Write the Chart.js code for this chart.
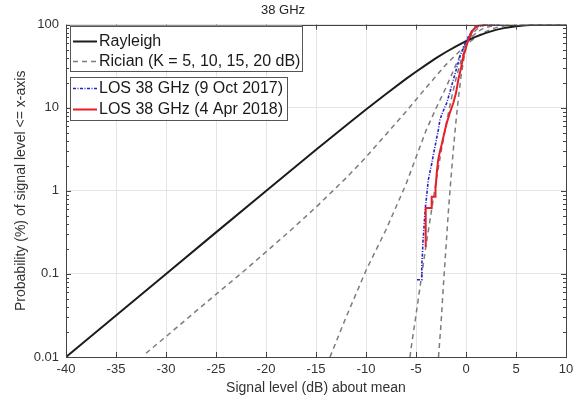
<!DOCTYPE html>
<html>
<head>
<meta charset="utf-8">
<script src="https://cdn.jsdelivr.net/npm/chart.js@4.4.1/dist/chart.umd.min.js"></script>
<style>
  html, body { margin: 0; padding: 0; background: #fff; }
  #wrap { width: 581px; height: 402px; }
</style>
</head>
<body>
<div id="wrap"><canvas id="cdf"></canvas></div>
<script>
// Rayleigh reference curve
const rayleighX = [-40, -35, -30, -25, -20, -15, -12, -10, -8, -6, -5, -4, -3, -2, -1, 0, 1, 2, 3, 4, 5, 6, 7, 8, 10];
const rayleighY = [0.01, 0.0316, 0.1, 0.316, 0.995, 3.11, 6.12, 9.52, 14.6, 22.2, 27.1, 32.8, 39.4, 46.8, 54.8, 63.2, 71.6, 79.5, 86.4, 91.9, 95.8, 98.1, 99.3, 99.8, 100];

// Rician reference curves (K = 5, 10, 15, 20 dB)
const rician5X = [-32, -30, -27.5, -25, -22.5, -20, -17.5, -15, -12, -10, -8, -6, -4, -2, 0, 1, 2, 3, 4, 5, 6, 8, 10];
const rician5Y = [0.0111, 0.0176, 0.0317, 0.0568, 0.101, 0.184, 0.338, 0.635, 1.42, 2.54, 4.77, 8.96, 17.4, 33, 57.1, 70.6, 82.8, 92, 97.2, 99.2, 99.8, 99.99, 100];
const rician10X = [-13.6, -12, -10, -8, -6, -4, -3, -2, -1, -0.5, 0, 0.5, 1, 1.5, 2, 3, 4, 5];
const rician10Y = [0.01, 0.03, 0.11, 0.34, 1.2, 5.3, 9.8, 17.5, 33, 45, 58, 70, 79, 87, 92.5, 98.4, 99.85, 100];
const rician15X = [-5.6, -5.5, -5, -4.5, -4, -3.5, -3, -2.5, -2, -1.5, -1, -0.5, 0, 0.5, 1, 1.5, 2, 2.5, 3, 4];
const rician15Y = [0.01, 0.0126, 0.032, 0.084, 0.22, 0.53, 1.29, 2.9, 6.2, 12.3, 22.4, 37, 55, 72.6, 86.6, 95, 98.6, 99.76, 99.97, 100];
const rician20X = [-2.75, -2.5, -2.25, -2, -1.75, -1.5, -1.25, -1, -0.75, -0.5, -0.25, 0, 0.25, 0.5, 0.75, 1, 1.5, 2, 3];
const rician20Y = [0.01, 0.025, 0.076, 0.21, 0.59, 1.43, 3.3, 6.9, 13.4, 23.5, 37, 52.8, 69, 82, 91, 96.5, 99.7, 99.99, 100];

// measured LOS 38 GHz CDFs (steps only where visible at the low end)
const los2017X = [-4.9, -4.42, -4.42, -4.35, -4.3, -4.22, -4.15, -4.05, -3.9, -3.77, -3.6, -3.43, -3.27, -3.1, -2.93, -2.77, -2.6, -2.3, -1.93, -1.6, -1.27, -0.93, -0.6, -0.27, 0.07, 0.4, 0.73, 1.1, 1.73, 2.5, 3.4];
const los2017Y = [0.085, 0.085, 0.13, 0.18, 0.25, 0.33, 0.45, 0.65, 0.95, 1.35, 1.7, 2.1, 2.7, 3.4, 4.3, 5.4, 7.2, 9.0, 11.4, 15.5, 21.7, 30, 41.5, 53, 66, 77, 87, 94, 98.5, 99.6, 100];
const los2018X = [-4.03, -4.03, -3.43, -3.43, -3.1, -3.05, -2.95, -2.85, -2.77, -2.6, -2.43, -2.25, -2.1, -1.93, -1.6, -1.27, -1.0, -0.77, -0.5, -0.27, 0.0, 0.23, 0.5, 0.73, 1.0, 1.4, 1.8, 2.4];
const los2018Y = [0.21, 0.62, 0.62, 0.85, 0.85, 1.05, 1.5, 2.0, 2.4, 3.0, 3.6, 4.5, 5.4, 6.5, 8.8, 11.4, 15, 21.7, 30, 41.5, 53, 66, 77, 87, 94, 98.5, 99.7, 100];

// axis ticks
const xTickValues = [-40, -35, -30, -25, -20, -15, -10, -5, 0, 5, 10];
const yTickValues = [0.01, 0.1, 1, 10, 100];
const yTickLabels = ['0.01', '0.1', '1', '10', '100'];

// minor ticks 2..9 inside each decade
const yAllTicks = [];
yTickValues.forEach((d, i) => {
    yAllTicks.push(d);
    if (i < yTickValues.length - 1) {
        for (let m = 2; m < 10; m++) yAllTicks.push(+(m * d).toPrecision(3));
    }
});
const isDecade = v => yTickValues.some(d => Math.abs(d - v) < d * 1e-6);

function pts(xs, ys) {
    return xs.map((x, i) => ({ x: x, y: ys[i] }));
}

const colors = {
    rayleigh: '#1c1c1c',
    rician: '#7c7c7c',
    blue: '#2323c8',
    red: '#ea1f26'
};

// 枠・内向き目盛・凡例 (MATLAB風)
const frameAndLegend = {
    id: 'frameAndLegend',
    afterDraw(chart) {
        const { ctx, chartArea: a, scales: { x, y } } = chart;
        ctx.save();
        ctx.strokeStyle = '#444';
        ctx.lineWidth = 1;
        ctx.strokeRect(Math.round(a.left) + 0.5, Math.round(a.top) + 0.5, Math.round(a.right - a.left), Math.round(a.bottom - a.top));

        ctx.beginPath();
        xTickValues.forEach(v => {
            const px = Math.round(x.getPixelForValue(v)) + 0.5;
            ctx.moveTo(px, a.bottom); ctx.lineTo(px, a.bottom - 5);
            ctx.moveTo(px, a.top); ctx.lineTo(px, a.top + 5);
        });
        yAllTicks.forEach(v => {
            const py = Math.round(y.getPixelForValue(v)) + 0.5;
            const len = isDecade(v) ? 5 : 3;
            ctx.moveTo(a.left, py); ctx.lineTo(a.left + len, py);
            ctx.moveTo(a.right, py); ctx.lineTo(a.right - len, py);
        });
        ctx.stroke();

        // legend boxes
        const L = a.left + 4;
        const boxes = [
            { top: a.top + 1, w: 232, h: 45, rows: [
                { dy: 15, text: 'Rayleigh', color: colors.rayleigh, dash: [], width: 2 },
                { dy: 35, text: 'Rician (K = 5, 10, 15, 20 dB)', color: colors.rician, dash: [5, 4], width: 1.5 }
            ] },
            { top: a.top + 52, w: 217, h: 43, rows: [
                { dy: 11, text: 'LOS 38 GHz (9 Oct 2017)', color: colors.blue, dash: [3, 1.5, 1, 1.5], width: 1.5 },
                { dy: 32, text: 'LOS 38 GHz (4 Apr 2018)', color: colors.red, dash: [], width: 2 }
            ] }
        ];
        ctx.font = '16px "Liberation Sans", Arial, sans-serif';
        ctx.textBaseline = 'middle';
        ctx.textAlign = 'left';
        boxes.forEach(b => {
            ctx.fillStyle = '#fff';
            ctx.fillRect(L, b.top, b.w, b.h);
            ctx.setLineDash([]);
            ctx.strokeStyle = '#555';
            ctx.lineWidth = 1;
            ctx.strokeRect(L + 0.5, Math.round(b.top) + 0.5, b.w, b.h);
            b.rows.forEach(r => {
                const yy = Math.round(b.top + r.dy) + 0.5;
                ctx.beginPath();
                ctx.setLineDash(r.dash);
                ctx.strokeStyle = r.color;
                ctx.lineWidth = r.width;
                ctx.moveTo(L + 3, yy);
                ctx.lineTo(L + 27, yy);
                ctx.stroke();
                ctx.setLineDash([]);
                ctx.fillStyle = '#1a1a1a';
                ctx.fillText(r.text, L + 29, yy);
            });
        });
        ctx.restore();
    }
};

const ricianStyle = {
    borderColor: colors.rician,
    borderWidth: 1.5,
    borderDash: [5, 4],
    showLine: true,
    pointRadius: 0,
    order: 3
};

new Chart(document.getElementById('cdf'), {
    type: 'scatter',
    data: {
        datasets: [
            { label: 'LOS 38 GHz (4 Apr 2018)', data: pts(los2018X, los2018Y), borderColor: colors.red, borderWidth: 2, showLine: true, pointRadius: 0, order: 0 },
            { label: 'LOS 38 GHz (9 Oct 2017)', data: pts(los2017X, los2017Y), borderColor: colors.blue, borderWidth: 1.6, borderDash: [3, 1.5, 1, 1.5], showLine: true, pointRadius: 0, order: 1 },
            { label: 'Rayleigh', data: pts(rayleighX, rayleighY), borderColor: colors.rayleigh, borderWidth: 2, showLine: true, pointRadius: 0, order: 2 },
            Object.assign({ label: 'Rician K=5 dB', data: pts(rician5X, rician5Y) }, ricianStyle),
            Object.assign({ label: 'Rician K=10 dB', data: pts(rician10X, rician10Y) }, ricianStyle),
            Object.assign({ label: 'Rician K=15 dB', data: pts(rician15X, rician15Y) }, ricianStyle),
            Object.assign({ label: 'Rician K=20 dB', data: pts(rician20X, rician20Y) }, ricianStyle)
        ]
    },
    options: {
        responsive: true,
        maintainAspectRatio: false,
        animation: false,
        layout: { padding: { top: 0, right: 15, bottom: 0, left: 0 } },
        plugins: {
            legend: { display: false },
            tooltip: { enabled: false },
            title: {
                display: true,
                text: '38 GHz',
                color: '#222',
                font: { size: 13, weight: 'normal', family: '"Liberation Sans", Arial, sans-serif' },
                padding: { top: 3, bottom: 6 }
            }
        },
        scales: {
            x: {
                type: 'linear',
                min: -40,
                max: 10,
                afterFit: s => { s.height = 45; },
                ticks: { stepSize: 5, padding: 5, color: '#333', font: { size: 13, family: '"Liberation Sans", Arial, sans-serif' } },
                grid: { color: '#e4e4e4', drawTicks: false },
                border: { display: false },
                title: {
                    display: true,
                    text: 'Signal level (dB) about mean',
                    color: '#333',
                    font: { size: 14, family: '"Liberation Sans", Arial, sans-serif' },
                    padding: { top: 0, bottom: 5 }
                }
            },
            y: {
                type: 'logarithmic',
                min: 0.01,
                max: 100,
                afterFit: s => { s.width = 66; },
                afterBuildTicks: s => { s.ticks = yAllTicks.map(v => ({ value: v })); },
                ticks: {
                    autoSkip: false,
                    padding: 7,
                    color: '#333',
                    font: { size: 13, family: '"Liberation Sans", Arial, sans-serif' },
                    callback: function(value) {
                        const i = yTickValues.findIndex(d => Math.abs(d - value) < d * 1e-6);
                        return i >= 0 ? yTickLabels[i] : '';
                    }
                },
                grid: {
                    color: c => (c.tick && isDecade(c.tick.value)) ? '#e4e4e4' : 'rgba(0,0,0,0)',
                    drawTicks: false
                },
                border: { display: false },
                title: {
                    display: true,
                    text: 'Probability (%) of signal level <= x-axis',
                    color: '#333',
                    font: { size: 14, family: '"Liberation Sans", Arial, sans-serif' },
                    padding: { top: 13, bottom: 0 }
                }
            }
        }
    },
    plugins: [frameAndLegend]
});
</script>
</body>
</html>
